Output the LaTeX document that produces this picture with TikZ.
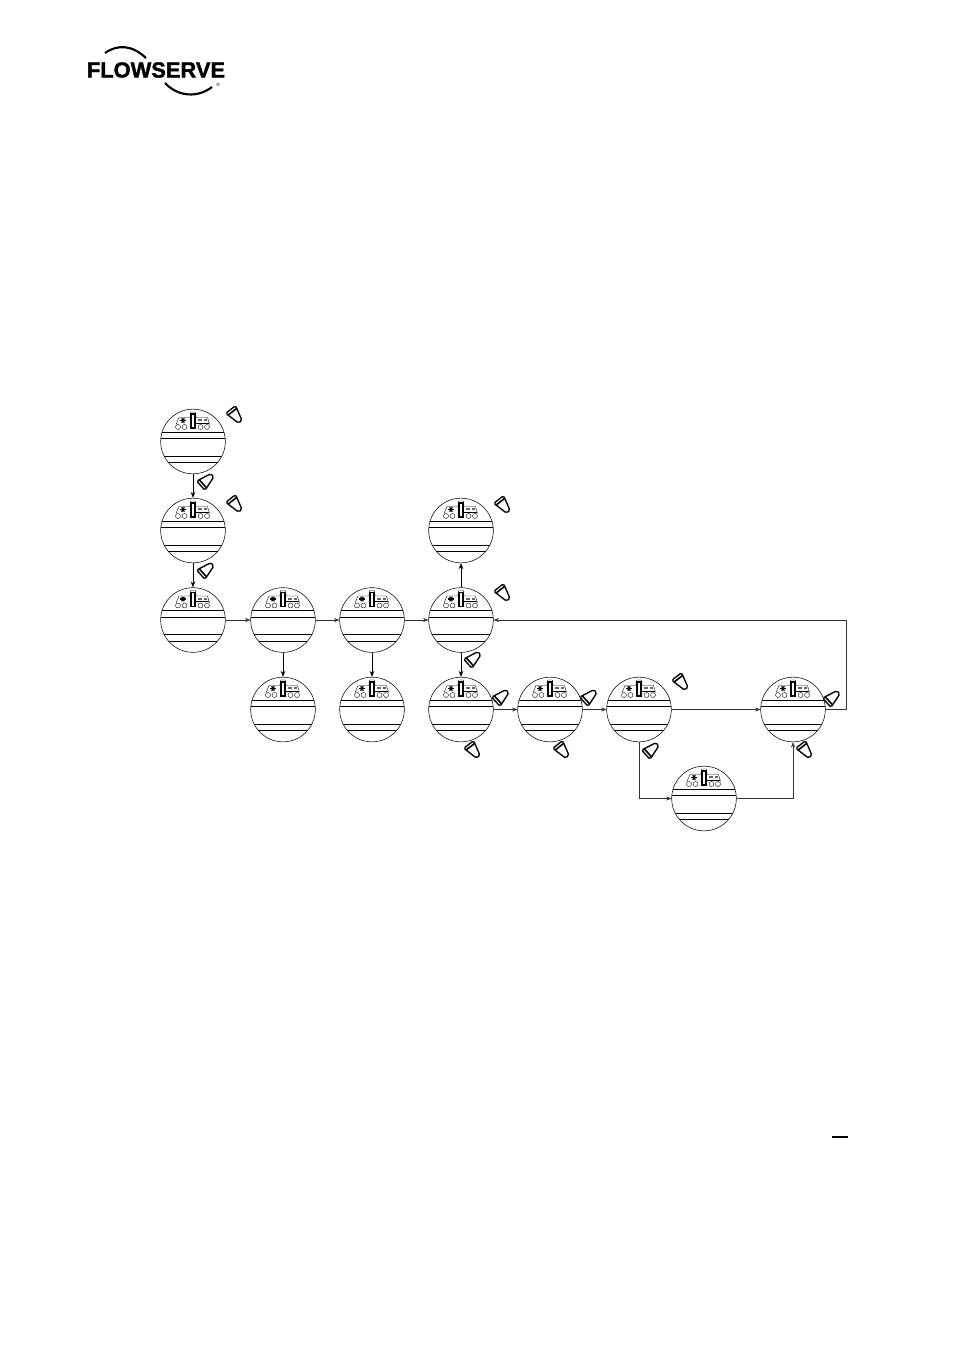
\documentclass[tikz,border=0pt]{standalone}
\usepackage{fontspec}
\usepackage{tikz}
\usetikzlibrary{arrows.meta}
\setmainfont{Liberation Sans}
\newfontfamily\logofont[BoldFeatures={FakeBold=1.6}]{Liberation Sans}

% inside of one gauge, origin at its centre
\newcommand{\gaugeface}{
  \begin{scope}[shift={(path picture bounding box.center)}]
    % display bands
    \draw[line width=.7pt] (-40,-9.5) -- (40,-9.5);
    \draw[line width=.7pt] (-40,-3) -- (40,-3);
    \draw[line width=.7pt] (-40,14.5) -- (40,14.5);
    \draw[line width=.7pt] (-40,21) -- (40,21);
    % buttons
    \foreach \bx in {-15,-8.5,7.5,14}
      \draw[line width=.3pt] (\bx,-14.5) circle (2.5);
    % window
    \draw[line width=.3pt] (-17,-17) -- (-14,-24) -- (-3,-24) -- (-2.5,-29.5) -- (2.5,-29.5) -- (3,-24) -- (14.5,-24) -- (16.5,-17);
    \draw[line width=.3pt] (3,-18.5) -- (15.5,-18.5);
    \draw[line width=.9pt,fill=white] (-2,-27.5) rectangle (2,-13.5);
    % status marks
    \foreach \sa in {0,60,120}
      \draw[line width=.9pt] (-10,-21) ++(\sa:2.6) -- ++(\sa+180:5.2);
    \fill[black!60] (5,-22.5) rectangle (8.5,-20.5);
    \fill[black!60] (10.5,-22.5) rectangle (14,-20.5);
  \end{scope}
}

\tikzset{
  gauge/.style={circle,draw,line width=.4pt,minimum size=48.5pt,inner sep=0pt,path picture={\gaugeface}},
  flowline/.style={line width=.35pt,black!80,-{Stealth[length=4pt,width=3pt]}},
  stemline/.style={line width=.7pt,-{Stealth[length=4.5pt,width=3.5pt]}},
  keymark/.pic={
    \draw[line width=1pt,fill=white,rounded corners=1.2pt] (-7,-6.2) -- (8.5,-2.2) -- (8.5,2.2) -- (-7,6.2) -- cycle;
    \draw[line width=1.2pt] (-4.2,-5) -- (-4.2,5);
  }
}

\begin{document}
\begin{tikzpicture}[x=.75pt,y=-.75pt]
\useasboundingbox (0,0) rectangle (954,1350);

%logo
\node [anchor=center,inner sep=0pt,font=\logofont\bfseries\fontsize{16.4}{18}\selectfont] (logo) at (156,70) {FLOWSERVE};
\draw[line width=1.6pt] (105,53) .. controls (118,44) and (132,45) .. (146,58);
\draw[line width=1.6pt] (165,83) .. controls (178,97) and (198,98) .. (212,87);
\node [inner sep=0pt,font=\fontsize{3.5}{4}\selectfont] (regmark) at (218,85) {®};

%gauges, left column
\node [gauge] (g1) at (193,441.5) {};
\node [gauge] (g2) at (193,530.5) {};
\node [gauge] (g3) at (193,620) {};

%gauges, middle row
\node [gauge] (g4) at (283,620) {};
\node [gauge] (g5) at (372,620) {};
\node [gauge] (g6) at (461,620) {};
\node [gauge] (g7) at (461,530.5) {};

%gauges, lower row
\node [gauge] (g8) at (283,709.5) {};
\node [gauge] (g9) at (372,709.5) {};
\node [gauge] (g10) at (461,709.5) {};
\node [gauge] (g11) at (550,709.5) {};
\node [gauge] (g12) at (639,709.5) {};
\node [gauge] (g13) at (793,709.5) {};
\node [gauge] (g14) at (704,798.5) {};

% vertical links
\draw[stemline] (g1) -- (g2);
\draw[stemline] (g2) -- (g3);
\draw[stemline] (g4) -- (g8);
\draw[stemline] (g5) -- (g9);
\draw[stemline] (g6) -- (g7);
\draw[stemline] (g6) -- (g10);

% horizontal links
\draw[flowline] (g3) -- (g4);
\draw[flowline] (g4) -- (g5);
\draw[flowline] (g5) -- (g6);
\draw[flowline] (g10) -- (g11);
\draw[flowline] (g11) -- (g12);
\draw[flowline] (g12) -- (g13);

%return path
\draw[flowline] (g13.east) -- ++(21,0) |- (g6.east);

%branch
\draw[flowline] (g12.south) |- (g14.west);
\draw[flowline] (g14.east) -| (g13.south);

%keys
\foreach \kx/\ky in {235/415, 235/504, 503/505, 503/593, 473/750, 562/750, 681/682, 805/750}
  \pic[rotate=-52] at (\kx,\ky) {keymark};
\foreach \kx/\ky in {206/481, 206/570, 473/659, 501/697, 589/697, 651/750, 832/698}
  \pic[rotate=42] at (\kx,\ky) {keymark};

%page mark
\coordinate (markL) at (832,1137);
\coordinate (markR) at (848,1137);
\draw[line width=.8pt] (markL) -- (markR);

\end{tikzpicture}
\end{document}
